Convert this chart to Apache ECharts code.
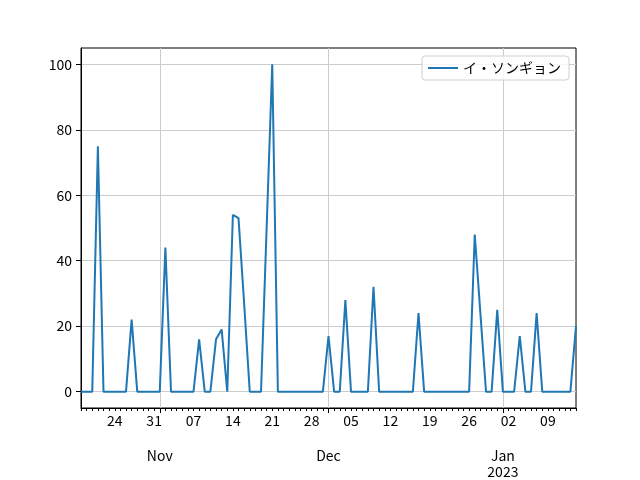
<!DOCTYPE html>
<html>
<head>
<meta charset="utf-8">
<script src="https://cdn.jsdelivr.net/npm/echarts@6/dist/echarts.min.js"></script>
<style>
  html, body { margin: 0; padding: 0; background: #fff; }
</style>
</head>
<body>
<div id="chart" style="width: 640px; height: 480px;"></div>
<script>
// one point per day, 2022-10-18 .. 2023-01-14
const dates = [
    '2022-10-18','2022-10-19','2022-10-20','2022-10-21','2022-10-22','2022-10-23','2022-10-24',
    '2022-10-25','2022-10-26','2022-10-27','2022-10-28','2022-10-29','2022-10-30','2022-10-31',
    '2022-11-01','2022-11-02','2022-11-03','2022-11-04','2022-11-05','2022-11-06','2022-11-07',
    '2022-11-08','2022-11-09','2022-11-10','2022-11-11','2022-11-12','2022-11-13','2022-11-14',
    '2022-11-15','2022-11-16','2022-11-17','2022-11-18','2022-11-19','2022-11-20','2022-11-21',
    '2022-11-22','2022-11-23','2022-11-24','2022-11-25','2022-11-26','2022-11-27','2022-11-28',
    '2022-11-29','2022-11-30','2022-12-01','2022-12-02','2022-12-03','2022-12-04','2022-12-05',
    '2022-12-06','2022-12-07','2022-12-08','2022-12-09','2022-12-10','2022-12-11','2022-12-12',
    '2022-12-13','2022-12-14','2022-12-15','2022-12-16','2022-12-17','2022-12-18','2022-12-19',
    '2022-12-20','2022-12-21','2022-12-22','2022-12-23','2022-12-24','2022-12-25','2022-12-26',
    '2022-12-27','2022-12-28','2022-12-29','2022-12-30','2022-12-31','2023-01-01','2023-01-02',
    '2023-01-03','2023-01-04','2023-01-05','2023-01-06','2023-01-07','2023-01-08','2023-01-09',
    '2023-01-10','2023-01-11','2023-01-12','2023-01-13','2023-01-14'
];

const values = [
    0, 0, 0, 75, 0, 0, 0,
    0, 0, 22, 0, 0, 0, 0,
    0, 44, 0, 0, 0, 0, 0,
    16, 0, 0, 16, 19, 0, 54,
    53, 27, 0, 0, 0, 50, 100,
    0, 0, 0, 0, 0, 0, 0,
    0, 0, 17, 0, 0, 28, 0,
    0, 0, 0, 32, 0, 0, 0,
    0, 0, 0, 0, 24, 0, 0,
    0, 0, 0, 0, 0, 0, 0,
    48, 24, 0, 0, 25, 0, 0,
    0, 17, 0, 0, 24, 0, 0,
    0, 0, 0, 0, 20
];

const seriesName = 'イ・ソンギョン';

// minor tick labels (mondays) and major labels (month starts)
const mondays = ['2022-10-24','2022-10-31','2022-11-07','2022-11-14','2022-11-21','2022-11-28',
    '2022-12-05','2022-12-12','2022-12-19','2022-12-26','2023-01-02','2023-01-09'];
const monthStarts = ['2022-11-01','2022-12-01','2023-01-01'];
const monthLabels = ['Nov','Dec','Jan\n2023'];

const yTicks = [0, 20, 40, 60, 80, 100];

const font = "'Noto Sans CJK JP', 'DejaVu Sans', sans-serif";

let myChart = echarts.init(document.getElementById('chart'));
let option = {
    animation: false,
    textStyle: { fontFamily: font },
    grid: {
        left: 81,
        right: 64,
        top: 48,
        bottom: 72,
        show: true,
        borderColor: '#000',
        borderWidth: 1
    },
    legend: {
        right: 71,
        top: 56,
        padding: [5, 8, 5, 6],
        icon: 'rect',
        itemWidth: 30,
        itemHeight: 2,
        itemGap: 10,
        backgroundColor: 'rgba(255,255,255,0.8)',
        borderColor: '#d0d0d0',
        borderWidth: 1,
        borderRadius: 3,
        textStyle: { fontFamily: font, fontSize: 14, color: '#000', lineHeight: 14 },
        data: [seriesName]
    },
    xAxis: [{
        type: 'category',
        boundaryGap: false,
        data: dates,
        axisLine: { onZero: false, lineStyle: { color: '#000', width: 1 } },
        axisTick: { interval: 0, length: 3, lineStyle: { color: '#000' } },
        axisLabel: {
            interval: (i, v) => mondays.indexOf(v) >= 0,
            formatter: v => v.slice(8),
            margin: 6,
            fontSize: 14,
            color: '#000',
            fontFamily: font
        },
        splitLine: { show: false }
    }, {
        type: 'category',
        position: 'bottom',
        boundaryGap: false,
        data: dates,
        axisLine: { show: false, onZero: false },
        axisTick: {
            interval: (i, v) => monthStarts.indexOf(v) >= 0,
            length: 5,
            lineStyle: { color: '#000' }
        },
        axisLabel: {
            interval: (i, v) => monthStarts.indexOf(v) >= 0,
            formatter: v => monthLabels[monthStarts.indexOf(v)] || '',
            margin: 40,
            lineHeight: 16,
            fontSize: 14,
            color: '#000',
            fontFamily: font
        },
        splitLine: {
            show: true,
            interval: (i, v) => monthStarts.indexOf(v) >= 0,
            lineStyle: { color: '#cccccc', width: 1 }
        }
    }],
    yAxis: {
        type: 'value',
        min: -5,
        max: 105,
        axisLine: { show: true, lineStyle: { color: '#000', width: 1 } },
        axisTick: { show: true, length: 5, customValues: yTicks, lineStyle: { color: '#000' } },
        axisLabel: { customValues: yTicks, margin: 9, fontSize: 14, color: '#000', fontFamily: font },
        splitLine: { show: true, lineStyle: { color: '#cccccc', width: 1 } }
    },
    series: [{
        name: seriesName,
        type: 'line',
        xAxisIndex: 0,
        symbol: 'none',
        itemStyle: { color: '#1f77b4' },
        lineStyle: { color: '#1f77b4', width: 2 },
        data: values
    }]
};
myChart.setOption(option);
window.addEventListener('resize', () => {
    myChart.resize();
});
</script>
</body>
</html>
